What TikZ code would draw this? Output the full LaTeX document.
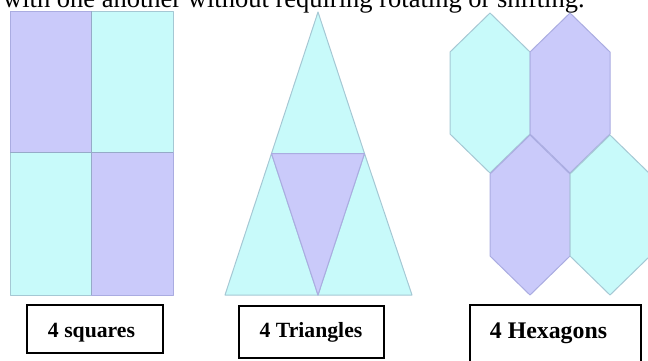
\documentclass[tikz,border=0pt]{standalone}
\usepackage{fontspec}
\setmainfont{Liberation Serif}
\definecolor{tcyan}{RGB}{200,250,250}
\definecolor{tpurple}{RGB}{202,202,250}
\definecolor{tedge}{RGB}{165,200,212}
\definecolor{pedge}{RGB}{170,172,225}
\tikzset{
  cyanpiece/.style={fill=tcyan, draw=tedge, line width=1pt, line join=round},
  purplepiece/.style={fill=tpurple, draw=pedge, line width=1pt, line join=round},
  labelbox/.style={draw=black, line width=1.2pt, inner sep=0pt},
  labeltext/.style={anchor=base, inner sep=0pt, font=\bfseries\fontsize{21.7}{24}\selectfont},
  hex/.pic={\path[pic actions] (0,0) -- (-40,39) -- (-40,121) -- (0,160) -- (40,121) -- (40,39) -- cycle;}
}
\begin{document}
\begin{tikzpicture}[x=1pt,y=-1pt]
\useasboundingbox (0,0) rectangle (648,360);
% top text line (cut off by the page edge)
\node[anchor=base west, inner sep=0pt, font=\fontsize{26.5}{30}\selectfont] (caption) at (3,7) {with one another without requiring rotating or shifting.};
% squares
\path[purplepiece] (10,11) rectangle (91,152);
\path[cyanpiece] (91,11) rectangle (173,152);
\path[cyanpiece] (10,152) rectangle (91,295);
\path[purplepiece] (91,152) rectangle (173,295);
\draw[draw={rgb,255:red,150;green,170;blue,200}, line width=1pt] (91,11) -- (91,295) (10,152) -- (173,152);
% triangles
\path[cyanpiece] (318,12) -- (271.5,153.5) -- (364.5,153.5) -- cycle;
\path[cyanpiece] (271.5,153.5) -- (225,295) -- (318,295) -- cycle;
\path[cyanpiece] (364.5,153.5) -- (318,295) -- (412,295) -- cycle;
\path[purplepiece] (271.5,153.5) -- (364.5,153.5) -- (318,295) -- cycle;
% hexagons
\pic[cyanpiece] at (490,13) {hex};
\pic[purplepiece] at (570,13) {hex};
\pic[purplepiece] at (530,135) {hex};
\pic[cyanpiece] at (610,135) {hex};
% label boxes
\node[labelbox, minimum width=136pt, minimum height=48pt] (box1) at (95,329) {};
\node[labeltext] (t1) at (91.5,337) {4 squares};
\node[labelbox, minimum width=145pt, minimum height=52pt] (box2) at (311.5,332) {};
\node[labeltext] (t2) at (311,337) {4 Triangles};
\node[labelbox, minimum width=171pt, minimum height=64pt] (box3) at (555.5,337) {};
\node[labeltext, font=\bfseries\fontsize{23.8}{26}\selectfont] (t3) at (548.5,338) {4 Hexagons};
\end{tikzpicture}
\end{document}
